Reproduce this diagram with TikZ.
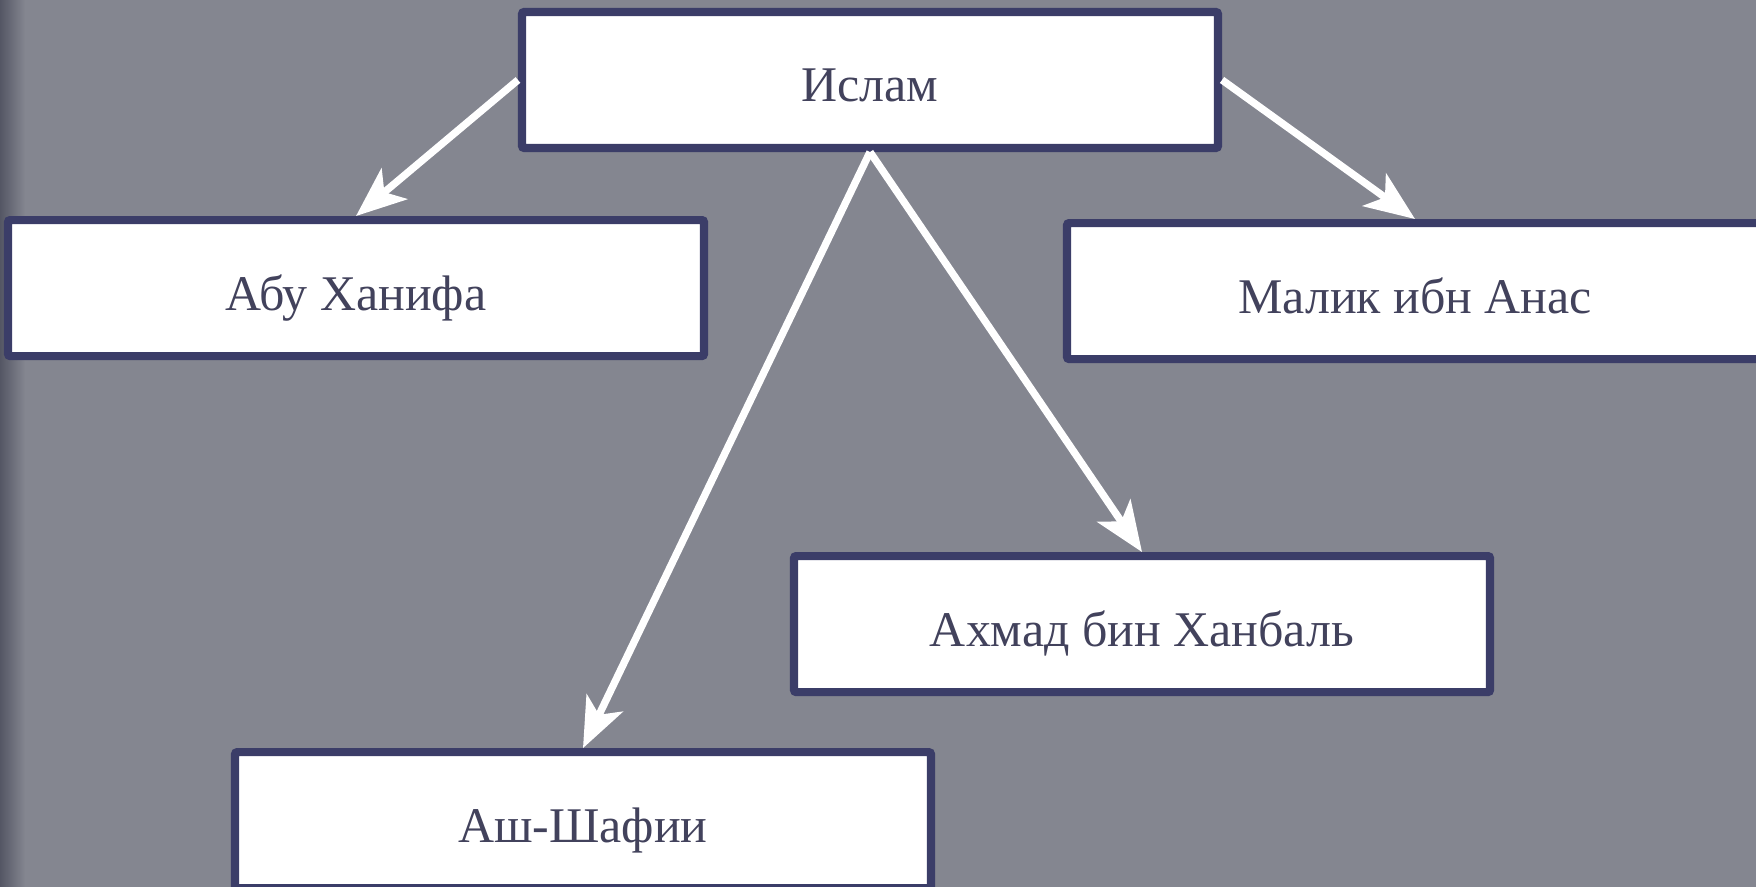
\documentclass[tikz,border=0pt]{standalone}
\usepackage{fontspec}
\setmainfont{Liberation Serif}
\usetikzlibrary{positioning,arrows.meta}
\definecolor{slate}{RGB}{132,134,144}
\definecolor{slatedark}{RGB}{84,86,100}
\definecolor{navy}{RGB}{59,61,104}
\definecolor{ink}{RGB}{66,66,92}

\begin{document}
\begin{tikzpicture}[
		school/.style={draw=navy, fill=white, line width=2.3pt, rounded corners=0.6pt,
			minimum width=6.96cm, minimum height=1.36cm, text=ink,
			text height=12.5pt, text depth=0pt,
			font=\fontsize{14.2}{17}\selectfont},
		link/.style={draw=white, line width=2.1pt,
			-{Stealth[length=0.5cm, width=0.4cm, inset=0.13cm]}}
	]
		% Background
		\useasboundingbox (0,0) rectangle (17.56,8.87);
		\fill[slate] (0,0) rectangle (17.56,8.87);
		\shade[left color=slatedark, right color=slate] (0,0) rectangle (0.25,8.87);
		
		% Define schools
		\node[school] (islam) at (8.70,8.07) {Ислам};
		\node[school, below=0.64cm of islam, xshift=-5.14cm] (hanifa) {Абу Ханифа};
		\node[school, below=0.67cm of islam, xshift=5.45cm] (malik) {Малик ибн Анас};
		\node[school, below=4cm of islam, xshift=2.72cm] (hanbal) {Ахмад бин Ханбаль};
		\node[school, below=0.52cm of hanbal, xshift=-5.59cm] (shafii) {Аш-Шафии};
		
		% Draw links
		\draw[link] (islam.west) -- (hanifa.north);
		\draw[link] (islam.east) -- (malik.north);
		\draw[link] (islam.south) -- (shafii.north);
		\draw[link] (islam.south) -- (hanbal.north);
	\end{tikzpicture}
\end{document}
